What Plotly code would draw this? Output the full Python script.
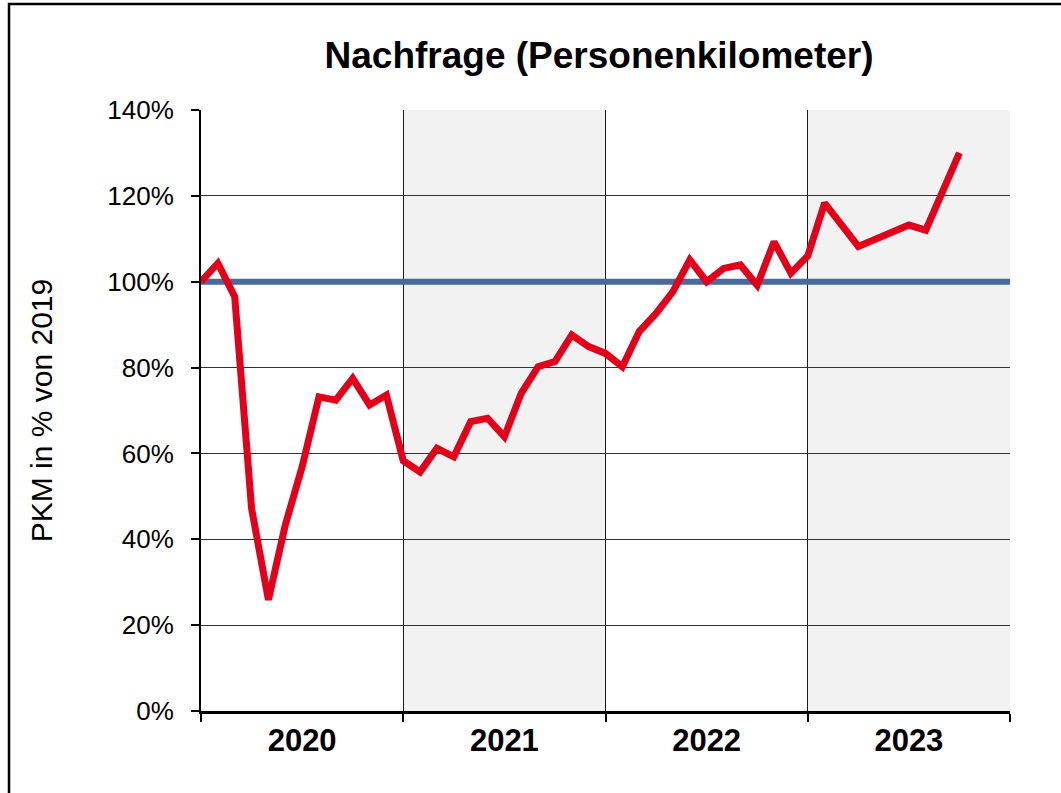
import plotly.graph_objects as go

# Data (month index since Jan 2020, value in % of 2019)
months = list(range(0, 38)) + [39, 42, 43, 45]
pkm_pct = [100.0, 104.3, 96.5, 47.2, 25.9, 43.3, 56.9, 73.2, 72.4, 77.5, 71.3, 73.6,
           58.3, 55.7, 61.2, 59.2, 67.4, 68.2, 63.9, 74.0, 80.2, 81.4, 87.6, 84.9,
           83.3, 80.2, 88.4, 92.6, 97.7, 105.1, 100.0, 103.1, 103.9, 99.2, 109.3, 102.0,
           106.0, 118.3, 108.2, 113.2, 112.0, 130.0]
baseline_x = [0, 48]
baseline_y = [100, 100]
years = ["2020", "2021", "2022", "2023"]
year_centers = [6, 18, 30, 42]
year_bounds = [0, 12, 24, 36, 48]
shaded_years = [(12, 24), (36, 48)]
y_ticks = [0, 20, 40, 60, 80, 100, 120, 140]

FONT = "Liberation Sans, Arial, sans-serif"

fig = go.Figure()
fig.add_trace(go.Scatter(x=baseline_x, y=baseline_y, mode="lines",
                         line=dict(color="#4A6A9B", width=6), hoverinfo="skip"))
fig.add_trace(go.Scatter(x=months, y=pkm_pct, mode="lines",
                         line=dict(color="#E2001A", width=7), hoverinfo="skip"))

for x0, x1 in shaded_years:
    fig.add_shape(type="rect", xref="x", yref="y", x0=x0, x1=x1, y0=0, y1=140,
                  fillcolor="#F2F2F2", line=dict(width=0), layer="below")

# outer frame
fig.add_shape(type="rect", xref="paper", yref="paper",
              x0=-0.2373, x1=1.08, y0=-0.16, y1=1.1764,
              line=dict(color="black", width=2.5), fillcolor="rgba(0,0,0,0)")

fig.update_layout(
    width=1061, height=793,
    margin=dict(l=201, r=51, t=110, b=82),
    paper_bgcolor="white", plot_bgcolor="white",
    showlegend=False,
    title=dict(text="<b>Nachfrage (Personenkilometer)</b>", xref="paper", x=0.492,
               xanchor="center", y=0.93, yanchor="middle",
               font=dict(family=FONT, size=37, color="black")),
    font=dict(family=FONT, color="black"),
)

fig.update_xaxes(
    range=[0, 48], tickmode="array", tickvals=year_centers, ticktext=years,
    ticks="", showgrid=False, zeroline=False,
    tickfont=dict(family=FONT, size=31, color="black", weight="bold"),
    showline=True, linecolor="black", linewidth=2.5, mirror=False,
    minor=dict(tickmode="array", tickvals=year_bounds, ticks="outside", ticklen=8,
               tickwidth=1.5, tickcolor="black", showgrid=True,
               gridcolor="#1a1a1a", gridwidth=1.2),
)
fig.update_yaxes(
    range=[0, 140], tickmode="array", tickvals=y_ticks,
    ticktext=[f"{v}%" for v in y_ticks],
    ticks="outside", ticklen=8, tickwidth=1.5, tickcolor="black",
    ticklabelstandoff=12,
    showgrid=True, gridcolor="#333333", gridwidth=1,
    zeroline=False, showline=True, linecolor="black", linewidth=2,
    tickfont=dict(family=FONT, size=26, color="black"),
    title=dict(text="PKM in % von 2019", font=dict(family=FONT, size=30, color="black"),
               standoff=46),
)

fig.write_html("out.html", config={"displayModeBar": False},
               post_script="document.body.style.margin='0px';")
